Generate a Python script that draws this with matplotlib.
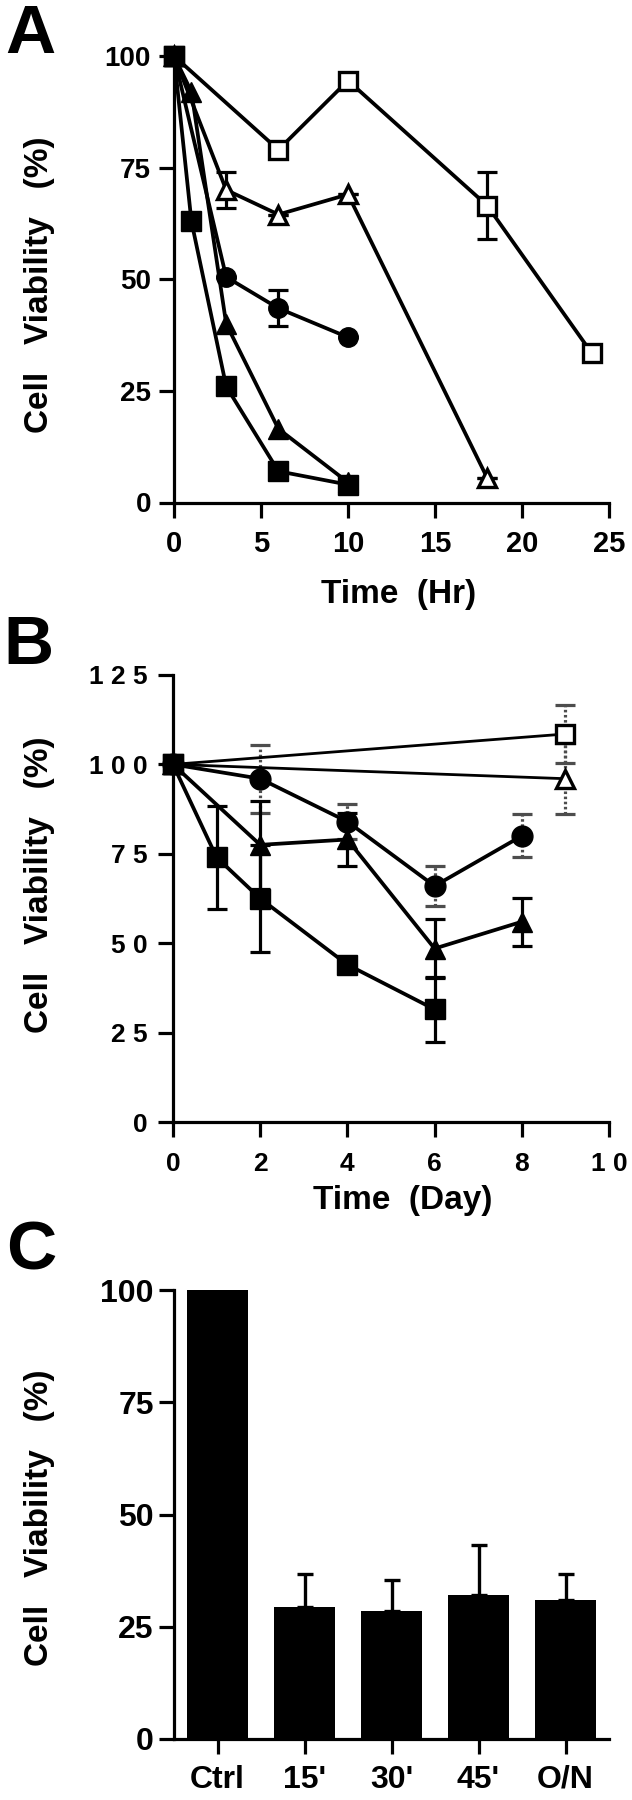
import numpy as np
import matplotlib
matplotlib.use("Agg")
import matplotlib.pyplot as plt

plt.rcParams["font.family"] = ["Liberation Sans", "DejaVu Sans"]
plt.rcParams["font.weight"] = "bold"

# ---- Panel A: time course in hours ----
a_open_sq_x = [0, 6, 10, 18, 24]
a_open_sq_y = [100, 79, 94.5, 66.5, 33.5]
a_open_sq_err = [0, 0, 0, 7.5, 0]

a_open_tri_x = [0, 3, 6, 10, 18]
a_open_tri_y = [100, 70, 64.5, 69, 5.5]
a_open_tri_err = [0, 4, 0, 0, 0]

a_circ_x = [0, 3, 6, 10]
a_circ_y = [100, 50.5, 43.5, 37]
a_circ_err = [0, 0, 4, 0]

a_tri_x = [0, 1, 3, 6, 10]
a_tri_y = [100, 92, 40, 16.5, 4.5]

a_sq_x = [0, 1, 3, 6, 10]
a_sq_y = [100, 63, 26, 7, 4]

# ---- Panel B: time course in days ----
b_open_sq_x = [0, 9]
b_open_sq_y = [100, 108.5]
b_open_sq_err = [0, 8]

b_open_tri_x = [0, 9]
b_open_tri_y = [100, 96]
b_open_tri_err = [0, 10]

b_circ_x = [0, 2, 4, 6, 8]
b_circ_y = [100, 96, 84, 66, 80]
b_circ_err = [0, 9.5, 5, 5.5, 6]

b_tri_x = [0, 2, 4, 6, 8]
b_tri_y = [100, 77.5, 79, 48.5, 56]
b_tri_err = [0, 12.3, 7.5, 8.2, 6.7]

b_sq_x = [0, 1, 2, 4, 6]
b_sq_y = [100, 74, 62.5, 44, 31.5]
b_sq_err = [0, 14.5, 15, 0, 9]

# ---- Panel C: bars ----
c_labels = ["Ctrl", "15'", "30'", "45'", "O/N"]
c_values = [100, 29.5, 28.5, 32, 31]
c_err = [0, 7.2, 7, 11.2, 5.7]

W, H = 632, 1800
fig = plt.figure(figsize=(W / 100, H / 100), dpi=100)


def px_axes(x0, x1, ytop, ybot):
    return fig.add_axes([x0 / W, 1 - ybot / H, (x1 - x0) / W, (ybot - ytop) / H])


def style(ax, xsize, ysize, xpad, ypad):
    for s in ["top", "right"]:
        ax.spines[s].set_visible(False)
    for s in ["left", "bottom"]:
        ax.spines[s].set_linewidth(2.3)
    ax.tick_params(direction="out", length=10.5, width=2.3)
    ax.tick_params(axis="x", labelsize=xsize, pad=xpad)
    ax.tick_params(axis="y", labelsize=ysize, pad=ypad)
    for lab in ax.get_xticklabels() + ax.get_yticklabels():
        lab.set_fontweight("bold")


def series(ax, x, y, marker, face, ms, lw=2.7, err=None, ecol="k", els="-", z=3):
    if err is not None:
        eb = ax.errorbar(x, y, yerr=err, fmt="none", ecolor=ecol, elinewidth=2.3,
                         capsize=7, capthick=2.3, zorder=z - 1, clip_on=False)
        eb[2][0].set_linestyle(els)
    ax.plot(x, y, color="k", lw=lw, marker=marker, ms=ms, mfc=face, mec="k",
            mew=2.4 if face == "white" else 1, zorder=z, clip_on=False)


# Panel A
axA = px_axes(174, 609, 56, 502.5)
series(axA, a_open_sq_x, a_open_sq_y, "s", "white", 12.5, err=a_open_sq_err)
series(axA, a_open_tri_x, a_open_tri_y, "^", "white", 13.5, err=a_open_tri_err)
series(axA, a_circ_x, a_circ_y, "o", "k", 14, err=a_circ_err)
series(axA, a_tri_x, a_tri_y, "^", "k", 15)
series(axA, a_sq_x, a_sq_y, "s", "k", 14, z=4)
axA.set_xlim(0, 25)
axA.set_ylim(0, 100)
axA.set_xticks([0, 5, 10, 15, 20, 25])
axA.set_yticks([0, 25, 50, 75, 100])
style(axA, 21, 20, 9, 6)

# Panel B
axB = px_axes(173, 609, 675, 1122)
grey = "0.3"
dots = (0, (0.8, 0.8))
series(axB, b_open_sq_x, b_open_sq_y, "s", "white", 13, lw=2.0,
       err=b_open_sq_err, ecol=grey, els=dots)
series(axB, b_open_tri_x, b_open_tri_y, "^", "white", 13.5, lw=2.0,
       err=b_open_tri_err, ecol=grey, els=dots)
series(axB, b_circ_x, b_circ_y, "o", "k", 15, err=b_circ_err,
       ecol=grey, els=dots)
series(axB, b_tri_x, b_tri_y, "^", "k", 15, err=b_tri_err)
series(axB, b_sq_x, b_sq_y, "s", "k", 15, err=b_sq_err, z=5)
axB.set_xlim(0, 10)
axB.set_ylim(0, 125)
axB.set_xticks([0, 2, 4, 6, 8, 10])
axB.set_xticklabels(["0", "2", "4", "6", "8", "1 0"])
axB.set_yticks([0, 25, 50, 75, 100, 125])
axB.set_yticklabels(["0", "2 5", "5 0", "7 5", "1 0 0", "1 2 5"])
style(axB, 19, 19, 11, 8)

# Panel C
axC = px_axes(174, 609, 1290, 1739)
xc = np.arange(len(c_labels))
axC.bar(xc, c_values, width=0.69, color="k", zorder=3)
axC.errorbar(xc, c_values, yerr=[np.zeros(len(c_err)), c_err], fmt="none",
             ecolor="k", elinewidth=2.4, capsize=5.5, capthick=2.4, zorder=2)
axC.set_xlim(-0.5, 4.5)
axC.set_ylim(0, 100)
axC.set_xticks(xc)
axC.set_xticklabels(c_labels)
axC.set_yticks([0, 25, 50, 75, 100])
style(axC, 23, 23, 8, 4)

# Texts
def ftext(x, y, s, **kw):
    fig.text(x / W, 1 - y / H, s, ha="center", va="center", fontweight="bold", **kw)


ftext(30, 35, "A", fontsize=50)
ftext(28, 646, "B", fontsize=50)
ftext(31, 1252, "C", fontsize=50)
ylab = "Cell   Viability   (%)"
ftext(40, 285, ylab, fontsize=24, rotation=90)
ftext(40, 885, ylab, fontsize=24, rotation=90)
ftext(40, 1518, ylab, fontsize=24, rotation=90)
ftext(398.5, 594.5, "Time  (Hr)", fontsize=24)
ftext(403, 1200, "Time  (Day)", fontsize=24)

fig.savefig("out.png", dpi=100)
